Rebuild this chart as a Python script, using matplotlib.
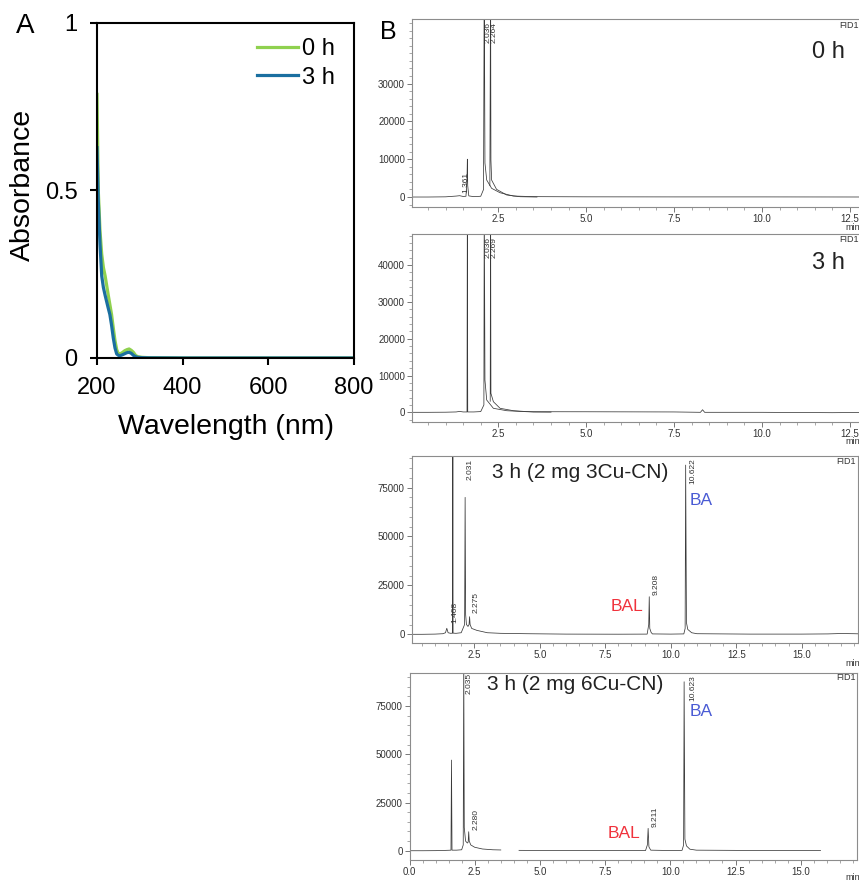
import numpy as np
import matplotlib
matplotlib.use('Agg')
import matplotlib.pyplot as plt
from matplotlib.ticker import MultipleLocator, FixedLocator, FormatStrFormatter

plt.rcParams['font.family'] = ['Liberation Sans', 'DejaVu Sans']

W, H = 859, 883

# ---------------- Panel A data (UV-vis) ----------------
wavelength = [200, 203, 207, 211, 215, 219, 226, 230, 234, 238, 242, 246, 250, 254,
              260, 265, 270, 275, 280, 285, 290, 295, 305, 320, 400, 500, 600, 700, 800]
abs_0h = [0.787, 0.50, 0.38, 0.31, 0.27, 0.245, 0.19, 0.16, 0.13, 0.09, 0.052, 0.025, 0.012, 0.012,
          0.017, 0.022, 0.025, 0.027, 0.023, 0.017, 0.008, 0.004, 0.002, 0.001, 0.0, 0.0, 0.0, 0.0, 0.0]
abs_3h = [0.628, 0.47, 0.34, 0.245, 0.21, 0.187, 0.15, 0.13, 0.098, 0.06, 0.03, 0.012, 0.008, 0.007,
          0.010, 0.013, 0.016, 0.017, 0.014, 0.008, 0.004, 0.002, 0.001, 0.0005, 0.0, 0.0, 0.0, 0.0, 0.0]
uv_labels = ['0 h', '3 h']
uv_colors = ['#8fd14f', '#1a6fa0']
uv_xticks = [200, 400, 600, 800]
uv_yticks = [0, 0.5, 1]
uv_yticklabels = ['0', '0.5', '1']

# ---------------- Panel B data (GC chromatograms) ----------------
nan = float('nan')
# 0 h
t_0h = [0.05, 0.5, 1.0, 1.3, 1.4, 1.5, 1.58, 1.61, 1.62, 1.63, 1.66, 1.8, 2.0, 2.08, 2.10,
        2.12, 2.17, 2.31, 2.55, 2.93, 3.5, 5.0, 7.5, 10.0, 13.5]
s_0h = [0, 0, 50, 250, 350, 150, 200, 5000, 10000, 3000, 300, 100, 200, 2000, 60000,
        9000, 4490, 2300, 1130, 260, 100, 50, 30, 30, 0]
t_0h_b = [2.26, 2.28, 2.29, 2.31, 2.45, 2.74, 3.12, 3.6]
s_0h_b = [3000, 60000, 9760, 4490, 2030, 530, 80, 0]
# 3 h
t_3h = [0.05, 0.5, 1.0, 1.3, 1.4, 1.5, 1.61, 1.62, 1.63, 1.8, 2.0, 2.09, 2.10, 2.12, 2.17,
        2.36, 2.74, 3.31, 5.0, 7.5, 8.25, 8.31, 8.37, 10.0, 12.0, 13.5]
s_3h = [0, 0, 30, 100, 250, 100, 100, 60000, 100, 100, 200, 2000, 60000, 8780, 3340,
        1090, 435, 163, 150, 100, 0, 700, 0, 0, -100, 0]
t_3h_b = [2.27, 2.28, 2.29, 2.36, 2.55, 2.93, 3.5, 4.0]
s_3h_b = [3000, 60000, 5160, 2880, 1090, 435, 80, 50]
# 3 h (3Cu-CN)
t_3cu = [0.11, 0.5, 1.0, 1.3, 1.40, 1.45, 1.50, 1.60, 1.67, 1.68, 1.69, 1.8, 2.0, 2.13, 2.15,
         2.17, 2.2, 2.26, 2.30, 2.32, 2.34, 2.4, 2.6, 3.0, 3.5, 4.5, 6.0, 8.0, 9.1, 9.16, 9.18,
         9.20, 9.25, 9.3, 10.0, 10.5, 10.55, 10.57, 10.6, 10.65, 10.8, 11.0, 13.0, 15.0, 16.0,
         16.5, 17.0, 17.3]
s_3cu = [0, 0, 100, 300, 800, 3070, 800, 500, 600, 100000, 600, 500, 800, 5000, 70000,
         10000, 5000, 4000, 5000, 9000, 5000, 3000, 2000, 800, 500, 300, 100, 50, 100, 5000, 19200,
         3000, 1000, 200, 100, 200, 3000, 86500, 6000, 2500, 800, 300, 100, 100, 200,
         400, 300, 200]
# 3 h (6Cu-CN)
t_6cu = [0.0, 0.5, 1.0, 1.3, 1.5, 1.59, 1.61, 1.63, 1.8, 2.0, 2.06, 2.08, 2.10, 2.15, 2.22,
         2.25, 2.27, 2.29, 2.35, 2.5, 2.8, 3.2, 3.5, nan, 4.2, 5.0, 7.5, 9.05, 9.12, 9.15, 9.18,
         9.25, 10.0, 10.45, 10.51, 10.53, 10.56, 10.62, 10.75, 11.0, 13.0, 15.0, 15.76]
s_6cu = [0, 0, 50, 150, 250, 300, 47000, 300, 300, 500, 3000, 100000, 12000, 5000, 4000,
         4500, 9860, 5000, 3000, 1800, 900, 500, 400, nan, 200, 150, 100, 100, 3000, 11600, 2000,
         300, 100, 200, 3000, 87600, 6000, 2500, 800, 300, 150, 100, 100]

# peak annotations: (text, time, signal, vertical alignment)
peaks_0h = [('1.361', 1.567, 1055, 'bottom'), ('2.036', 2.215, 46250, 'top'), ('2.264', 2.39, 46250, 'top')]
peaks_3h = [('2.036', 2.215, 47700, 'top'), ('2.269', 2.38, 47700, 'top')]
peaks_3cu = [('1.408', 1.76, 5620, 'bottom'), ('2.031', 2.34, 89900, 'top'), ('2.275', 2.58, 10730, 'bottom'),
             ('9.208', 9.46, 20080, 'bottom'), ('10.622', 10.83, 89900, 'top')]
peaks_6cu = [('2.035', 2.29, 92000, 'top'), ('2.280', 2.56, 10740, 'bottom'),
             ('9.211', 9.42, 12450, 'bottom'), ('10.623', 10.86, 91100, 'top')]

fig = plt.figure(figsize=(W / 100, H / 100), dpi=100)


def add_ax(l, t, r, b):
    return fig.add_axes([l / W, 1 - b / H, (r - l) / W, (b - t) / H])


def ftext(x, y, s, **kw):
    fig.text(x / W, 1 - y / H, s, **kw)


# ---------------- Panel A ----------------
axA = add_ax(97, 23, 354, 358)
axA.plot(wavelength, abs_0h, color=uv_colors[0], lw=2.3, label=uv_labels[0], solid_joinstyle='round')
axA.plot(wavelength, abs_3h, color=uv_colors[1], lw=2.3, label=uv_labels[1], solid_joinstyle='round')
axA.set_xlim(200, 800)
axA.set_ylim(0, 1)
axA.set_xticks(uv_xticks)
axA.set_yticks(uv_yticks)
axA.set_yticklabels(uv_yticklabels)
for sp in axA.spines.values():
    sp.set_linewidth(1.5)
    sp.set_color('black')
axA.tick_params(direction='out', length=5, width=1.5, labelsize=17, pad=9)
axA.tick_params(axis='y', pad=9)
axA.legend(loc='upper left', bbox_to_anchor=(0.623, 0.955), frameon=False, fontsize=17,
           handlelength=1.74, handletextpad=0.17, labelspacing=0.28, borderpad=0, borderaxespad=0)
ftext(22.5, 184.5, 'Absorbance', rotation=90, ha='center', va='center', fontsize=20.5)
ftext(225.5, 427, 'Wavelength (nm)', ha='center', va='center', fontsize=20.5)
ftext(25, 26, 'A', ha='center', va='center', fontsize=20)

# ---------------- Panel B ----------------
ftext(388.5, 31.7, 'B', ha='center', va='center', fontsize=18)

spine_c = '#8c8c8c'
trace_c = '#3a3a3a'


def style_chrom(ax, xlim, ylim, ymajor, yminor):
    ax.set_xlim(*xlim)
    ax.set_ylim(*ylim)
    ax.xaxis.set_major_locator(MultipleLocator(2.5))
    ax.xaxis.set_minor_locator(MultipleLocator(0.5))
    ax.xaxis.set_major_formatter(FormatStrFormatter('%.1f'))
    ax.yaxis.set_major_locator(FixedLocator(ymajor))
    ax.yaxis.set_minor_locator(MultipleLocator(yminor))
    for sp in ax.spines.values():
        sp.set_linewidth(0.8)
        sp.set_color(spine_c)
    ax.tick_params(which='major', direction='out', length=3.5, width=0.7, color='#777777',
                   labelsize=7, labelcolor='#333333', pad=1.5)
    ax.tick_params(which='minor', direction='out', length=2, width=0.6, color='#999999')


def annotate_peaks(ax, peaks):
    for txt, t, s, va in peaks:
        ax.text(t, s, txt, rotation=90, ha='center', va=va, fontsize=6, color='#333333')


ax1 = add_ax(412, 19.3, 885, 207)
ax1.plot(t_0h, s_0h, color=trace_c, lw=0.55)
ax1.plot(t_0h_b, s_0h_b, color=trace_c, lw=0.55)
style_chrom(ax1, (0.045, 13.5), (-2640, 47000), [0, 10000, 20000, 30000], 2000)
annotate_peaks(ax1, peaks_0h)

ax2 = add_ax(412, 234.3, 885, 421.7)
ax2.plot(t_3h, s_3h, color=trace_c, lw=0.55)
ax2.plot(t_3h_b, s_3h_b, color=trace_c, lw=0.55)
style_chrom(ax2, (0.045, 13.5), (-2550, 48370), [0, 10000, 20000, 30000, 40000], 2000)
annotate_peaks(ax2, peaks_3h)

ax3 = add_ax(411.7, 455.7, 858, 643.3)
ax3.plot(t_3cu, s_3cu, color=trace_c, lw=0.55)
style_chrom(ax3, (0.11, 17.15), (-4600, 91300), [0, 25000, 50000, 75000], 5000)
annotate_peaks(ax3, peaks_3cu)

ax4 = add_ax(409.5, 672.7, 857.3, 860)
ax4.plot(t_6cu, s_6cu, color=trace_c, lw=0.55)
style_chrom(ax4, (0.0, 17.17), (-4800, 92300), [0, 25000, 50000, 75000], 5000)
annotate_peaks(ax4, peaks_6cu)

bal_c = '#f0323c'
ba_c = '#4a5bd4'
ax3.text(8.33, 14000, 'BAL', color=bal_c, fontsize=12.5, ha='center', va='center')
ax3.text(11.17, 68600, 'BA', color=ba_c, fontsize=12.5, ha='center', va='center')
ax4.text(8.22, 9180, 'BAL', color=bal_c, fontsize=12.5, ha='center', va='center')
ax4.text(11.2, 72100, 'BA', color=ba_c, fontsize=12.5, ha='center', va='center')

# titles
ftext(828, 51.7, '0 h', ha='center', va='center', fontsize=17, color='#222222')
ftext(828, 263.3, '3 h', ha='center', va='center', fontsize=17, color='#222222')
ftext(580.5, 473, '3 h (2 mg 3Cu-CN)', ha='center', va='center', fontsize=15, color='#222222')
ftext(575, 685, '3 h (2 mg 6Cu-CN)', ha='center', va='center', fontsize=15, color='#222222')

# FID1 / min
for y in [26, 240, 461, 677.5]:
    ftext(859 if y < 300 else 856, y, 'FID1', ha='right', va='center', fontsize=6.5, color='#333333')
for y in [227.5, 441.5, 664, 877]:
    ftext(845, y, 'min', ha='left', va='center', fontsize=6.5, color='#333333')

fig.savefig('out.png', dpi=100)
